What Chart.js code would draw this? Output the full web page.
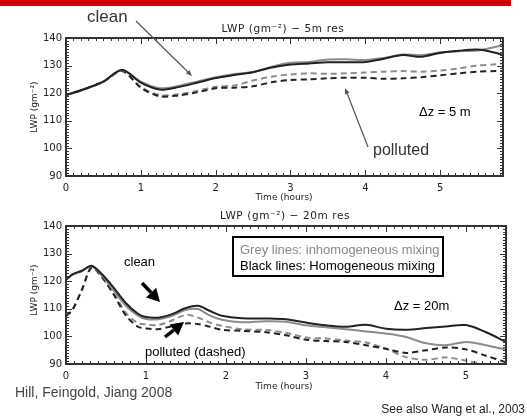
<!DOCTYPE html>
<html>
<head>
<meta charset="utf-8">
<script src="https://cdn.jsdelivr.net/npm/chart.js@4.4.1/dist/chart.umd.min.js"></script>
<style>
    body { margin: 0; width: 527px; height: 417px; position: relative; overflow: hidden; background: #fff; }
    canvas { position: absolute; left: 0; }
    #bar { position: absolute; left: 0; top: 0; width: 511px; height: 6px; background: #cc0000; }
    #notes { position: absolute; left: 0; top: 0; }
</style>
</head>
<body>
<div id="bar"></div>
<canvas id="topChart" width="527" height="205" style="top:0"></canvas>
<canvas id="botChart" width="527" height="212" style="top:205px"></canvas>
<svg id="notes" width="527" height="417" xmlns="http://www.w3.org/2000/svg">
    <g font-family="DejaVu Sans, sans-serif" fill="#222">
        <text x="283" y="32" font-size="10.5" text-anchor="middle" letter-spacing="0.6">LWP (gm⁻²)  −  5m res</text>
        <text x="284" y="200" font-size="9" text-anchor="middle">Time (hours)</text>
        <text transform="translate(37,107) rotate(-90)" font-size="9" text-anchor="middle">LWP (gm⁻²)</text>
        <text x="285" y="219" font-size="10.5" text-anchor="middle" letter-spacing="0.6">LWP (gm⁻²)  −  20m res</text>
        <text x="284" y="389" font-size="9" text-anchor="middle">Time (hours)</text>
        <text transform="translate(37,290) rotate(-90)" font-size="9" text-anchor="middle">LWP (gm⁻²)</text>
    </g>
    <g font-family="Liberation Sans, Arial, sans-serif">
        <text x="87" y="22" font-size="17" fill="#333">clean</text>
        <text x="373" y="155" font-size="16" fill="#333">polluted</text>
        <text x="419" y="116" font-size="13" fill="#000">Δz = 5 m</text>
        <text x="124" y="266" font-size="13" fill="#000">clean</text>
        <text x="145" y="356" font-size="13" fill="#000">polluted (dashed)</text>
        <rect x="233" y="237" width="210" height="39" fill="#fff" stroke="#000" stroke-width="2"></rect>
        <text x="240" y="254" font-size="13" fill="#888">Grey lines: inhomogeneous mixing</text>
        <text x="240" y="270" font-size="13" fill="#000">Black lines: Homogeneous mixing</text>
        <text x="394" y="310" font-size="13" fill="#000">Δz = 20m</text>
        <text x="15" y="397" font-size="14" fill="#444">Hill, Feingold, Jiang 2008</text>
        <text x="525" y="413" font-size="12" fill="#222" text-anchor="end">See also Wang et al., 2003</text>
    </g>
    <g id="arrows"></g>
</svg>
<script>
// time axis (hours) and LWP (g m-2)
const tTop = [0, 0.25, 0.5, 0.75, 1, 1.25, 1.5, 1.75, 2, 2.25, 2.5, 2.75, 3, 3.25, 3.5, 3.75, 4, 4.25, 4.5, 4.75, 5, 5.25, 5.5, 5.75, 5.84];
const topHomClean = [119.3, 121.5, 124.2, 128.5, 123.8, 121.3, 122.2, 123.8, 125.5, 126.6, 127.6, 129.3, 130.4, 130.8, 131.2, 131.2, 131.3, 132.5, 133.8, 133.2, 134.6, 135.4, 135.8, 134.6, 133.8];
const topInhClean = [119.3, 121.5, 124.2, 128.3, 124.2, 121.8, 122.6, 124.2, 125.8, 127, 127.7, 129.6, 131, 131.3, 132.2, 132.3, 132, 132.8, 134, 133.8, 134.8, 135.2, 135.5, 136.8, 137.8];
const topHomPoll = [119.3, 121.5, 124.2, 128, 122, 118.9, 119.2, 120.3, 121.8, 122, 122.5, 124, 124.8, 125, 125.4, 125.6, 125.6, 125.2, 125.4, 125.8, 126.5, 127.2, 127.8, 128, 128];
const topInhPoll = [119.3, 121.5, 124.2, 128, 122.3, 119.3, 119.6, 120.8, 122.3, 122.8, 124.6, 126, 126.8, 127.2, 127, 127.2, 127.5, 127.8, 128, 127.8, 128.2, 129, 130, 130.5, 130.8];

const tBot = [0, 0.08, 0.2, 0.32, 0.45, 0.6, 0.75, 0.9, 1, 1.15, 1.3, 1.5, 1.65, 1.8, 1.95, 2.2, 2.5, 2.75, 3, 3.25, 3.5, 3.75, 4, 4.25, 4.5, 4.75, 5, 5.25, 5.5];
const botHomClean = [120.5, 122.5, 123.8, 125.6, 122.5, 117.5, 112, 108.2, 107, 106.8, 107.8, 110.3, 111.1, 109.2, 107.5, 106.6, 106.5, 106.2, 105, 104, 103.5, 104.2, 102.8, 102.4, 103, 103.6, 104.1, 101.5, 98];
const botInhClean = [120.5, 122.3, 123.7, 125.4, 122, 116.5, 111, 107.5, 106.3, 106.2, 107.2, 109.6, 109.9, 107.5, 106, 105.1, 105.5, 105.3, 104, 103.3, 102.6, 101.8, 101, 99.8, 97.5, 96.8, 98, 96.8, 95.2];
const botHomPoll = [107.4, 109.6, 117, 125, 121.5, 115, 107.5, 103.5, 102.9, 102.6, 103.5, 104.7, 104.5, 103.5, 102.4, 102, 101.5, 100.4, 98.8, 98.3, 98, 96.8, 95.5, 94, 95, 96, 95.3, 93, 90.6];
const botInhPoll = [107.4, 109.6, 117, 124.8, 121.3, 115.5, 108.5, 104.8, 104.4, 104.1, 105.5, 107.8, 106.8, 105, 103.8, 102.6, 102.3, 101.3, 99.6, 99.2, 98.5, 97.8, 95.5, 92.5, 91.5, 92.4, 91.2, 89.8, 89];

const yTicks = [90, 100, 110, 120, 130, 140];
const xTicks = [0, 1, 2, 3, 4, 5];

const BLACK = '#222';
const GREY = '#8c8c8c';

// IDL-style box with inward major/minor ticks on all four sides
const idlFrame = {
    id: 'idlFrame',
    afterDatasetsDraw(chart) {
        const { ctx, chartArea: a, scales: { x, y } } = chart;
        const seg = (x1, y1, x2, y2) => { ctx.beginPath(); ctx.moveTo(x1, y1); ctx.lineTo(x2, y2); ctx.stroke(); };
        ctx.save();
        ctx.strokeStyle = '#333';
        ctx.lineWidth = 1;
        for (let v = y.min; v <= y.max + 1e-6; v += 1) {
            const py = Math.round(y.getPixelForValue(v)) + 0.5;
            const len = Math.round(v) % 10 === 0 ? 6 : 3;
            seg(a.left, py, a.left + len, py);
            seg(a.right, py, a.right - len, py);
        }
        for (let i = 0; i / 10 <= x.max + 1e-6; i++) {
            const px = Math.round(x.getPixelForValue(i / 10)) + 0.5;
            const len = i % 10 === 0 ? 6 : 3;
            seg(px, a.bottom, px, a.bottom - len);
            seg(px, a.top, px, a.top + len);
        }
        ctx.lineWidth = 2;
        ctx.strokeRect(a.left, a.top, a.right - a.left, a.bottom - a.top);
        ctx.restore();
    },
};

function series(times, vals, color, dashed) {
    return {
        data: times.map((t, i) => ({ x: t, y: vals[i] })),
        borderColor: color,
        borderWidth: 2,
        borderDash: dashed ? [6, 4] : [],
        pointRadius: 0,
        tension: 0.3,
        fill: false,
    };
}

function makeChart(id, times, sets, xMax, pad, xH) {
    new Chart(document.getElementById(id), {
        type: 'line',
        data: {
            datasets: [
                series(times, sets[0], BLACK, false),
                series(times, sets[1], GREY, false),
                series(times, sets[2], BLACK, true),
                series(times, sets[3], GREY, true),
            ],
        },
        options: {
            responsive: false,
            animation: false,
            devicePixelRatio: 1,
            layout: { padding: pad },
            plugins: { legend: { display: false }, tooltip: { enabled: false } },
            scales: {
                x: {
                    type: 'linear',
                    min: 0,
                    max: xMax,
                    afterFit: (s) => { s.height = xH; },
                    afterBuildTicks: (s) => { s.ticks = xTicks.map((v) => ({ value: v })); },
                    grid: { display: false, drawTicks: false },
                    border: { display: false },
                    ticks: { padding: 6, maxRotation: 0, color: '#222', font: { family: 'DejaVu Sans', size: 10 } },
                },
                y: {
                    min: 90,
                    max: 140,
                    afterFit: (s) => { s.width = 66; },
                    afterBuildTicks: (s) => { s.ticks = yTicks.map((v) => ({ value: v })); },
                    grid: { display: false, drawTicks: false },
                    border: { display: false },
                    ticks: { padding: 4, color: '#222', font: { family: 'DejaVu Sans', size: 10 } },
                },
            },
        },
        plugins: [idlFrame],
    });
}

makeChart('topChart', tTop, [topHomClean, topInhClean, topHomPoll, topInhPoll], 5.84, { left: 0, right: 24, top: 38, bottom: 0 }, 29);
makeChart('botChart', tBot, [botHomClean, botInhClean, botHomPoll, botInhPoll], 5.5, { left: 0, right: 21, top: 21, bottom: 0 }, 53);

// annotation arrows
function arrow(x1, y1, x2, y2, head, halfW, width, color) {
    const len = Math.hypot(x2 - x1, y2 - y1);
    const ux = (x2 - x1) / len, uy = (y2 - y1) / len;
    const bx = x2 - ux * head, by = y2 - uy * head;
    const g = document.getElementById('arrows');
    g.insertAdjacentHTML('beforeend',
        `<line x1="${x1}" y1="${y1}" x2="${bx}" y2="${by}" stroke="${color}" stroke-width="${width}"/>` +
        `<polygon points="${x2},${y2} ${bx - uy * halfW},${by + ux * halfW} ${bx + uy * halfW},${by - ux * halfW}" fill="${color}"/>`);
}
arrow(136, 21, 192, 76, 6, 2.5, 1.2, '#555');
arrow(368, 147, 345, 88, 6, 2.5, 1.2, '#555');
arrow(142, 283, 160, 302, 13, 7, 3.5, '#000');
arrow(165, 337, 184, 322, 13, 7, 3.5, '#000');
</script>
</body>
</html>
